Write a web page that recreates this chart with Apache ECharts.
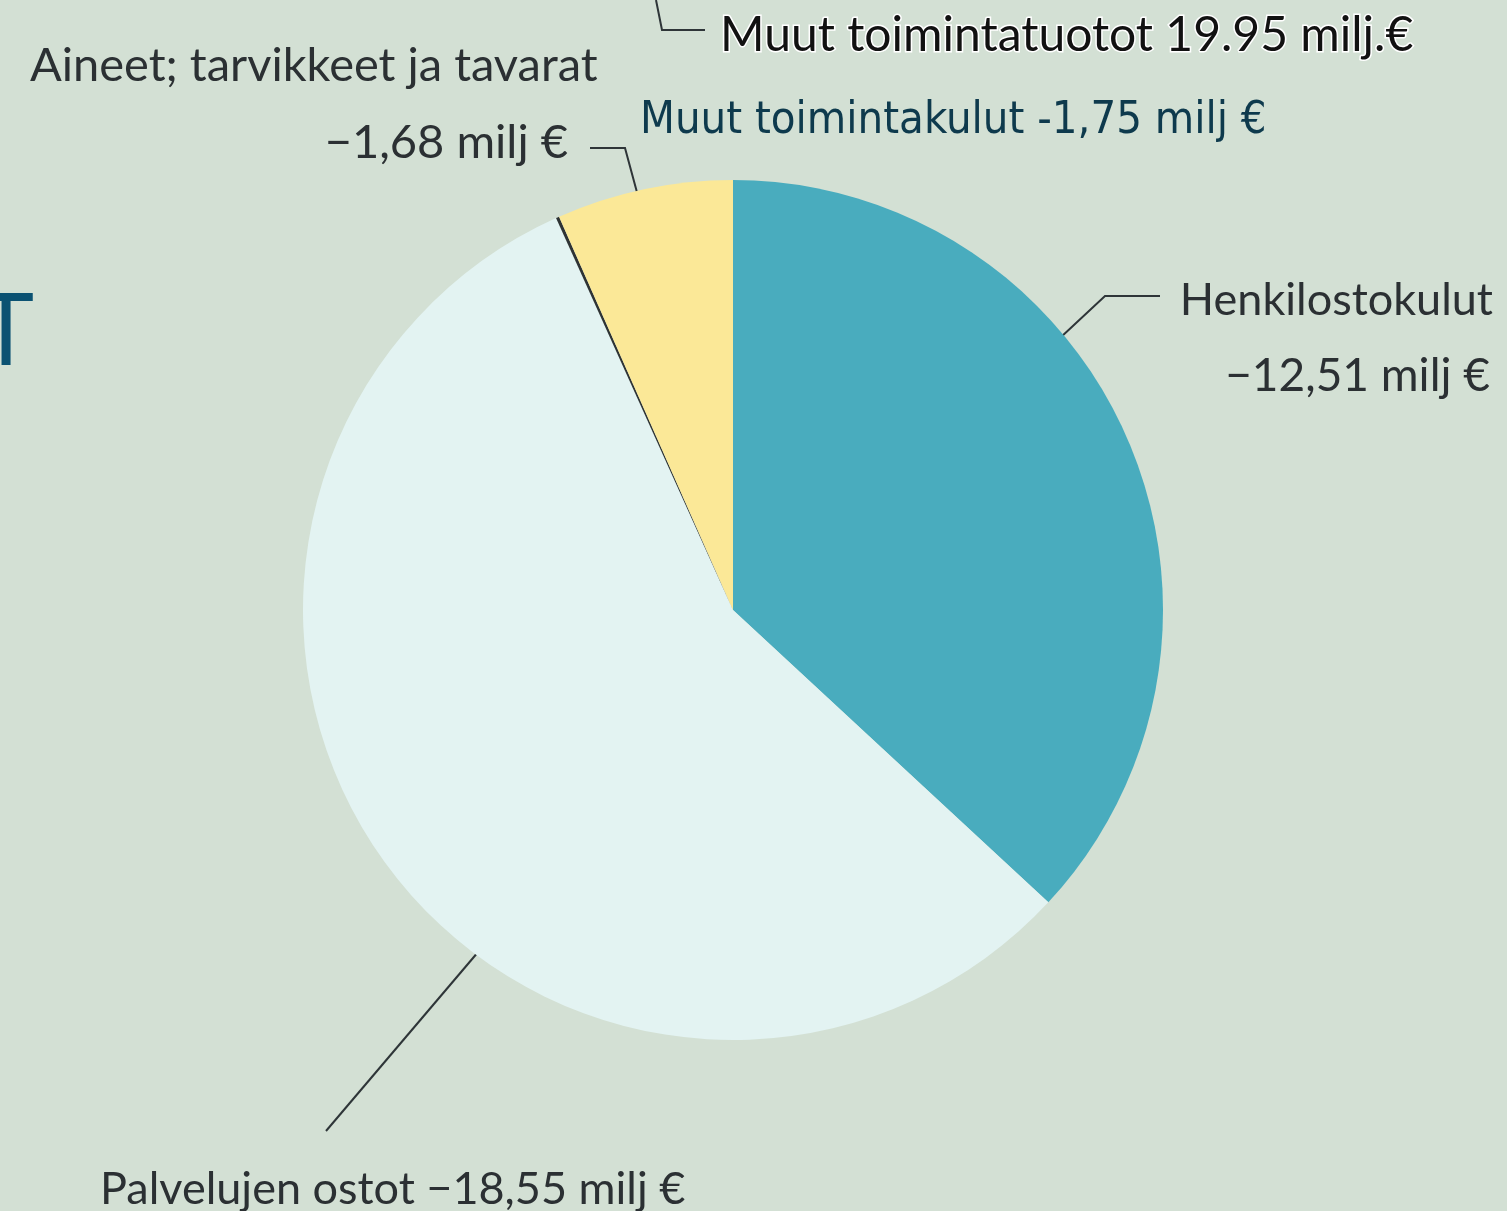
<!DOCTYPE html>
<html>
<head>
<meta charset="utf-8">
<script src="https://cdn.jsdelivr.net/npm/echarts@6/dist/echarts.min.js"></script>
<style>
  html, body { margin: 0; padding: 0; background: #d3e0d4; }
  #chart { width: 1507px; height: 1211px; }
</style>
</head>
<body>
<div id="chart"></div>
<script>
// slices clockwise from 12 o'clock
const categories = ['Henkilostokulut', 'Palvelujen ostot', 'Muut toimintakulut', 'Aineet; tarvikkeet ja tavarat']
const sliceValues = [12.08, 18.45, 0.04, 2.17]
const sliceColors = ['#49acbe', '#e3f3f2', '#2e3335', '#fbe897']
const valueLabels = ['−12,51 milj €', '−18,55 milj €', '-1,75 milj €', '−1,68 milj €']
const incomeLabel = 'Muut toimintatuotot 19.95 milj.€'

const chart = echarts.init(document.getElementById('chart'))

const txtFont = 'Lato, "Open Sans", sans-serif'
const txtColor = '#2b3033'
const lineStyle = { stroke: '#2e3538', lineWidth: 2, fill: null }

function text(x, y, str, size, opt) {
  return {
    type: 'text', x: x, y: y, silent: true,
    style: Object.assign({
      text: str, fill: txtColor, font: size + 'px ' + txtFont,
      textAlign: 'left', textVerticalAlign: 'middle'
    }, opt || {})
  }
}
function line(points) {
  return { type: 'polyline', silent: true, shape: { points: points }, style: lineStyle }
}

chart.setOption({
  backgroundColor: '#d3e0d4',
  animation: false,
  series: [
    {
      type: 'pie',
      center: [733, 610],
      radius: 430,
      startAngle: 90,
      clockwise: true,
      label: { show: false },
      labelLine: { show: false },
      itemStyle: { borderWidth: 0 },
      data: categories.map((name, i) => ({
        name: name,
        value: sliceValues[i],
        itemStyle: { color: sliceColors[i] }
      }))
    }
  ],
  graphic: [
    // cut-off title letter on the left edge
    text(6, 337, 'T', 100, { fill: '#0b5272', font: '100px "Noto Sans", sans-serif', textAlign: 'center' }),

    // income label at the top
    line([[656, 0], [662, 30], [705, 30]]),
    text(720, 36, incomeLabel, 48, { fill: '#111', stroke: '#ffffff', lineWidth: 3 }),

    // Aineet
    text(30, 66, categories[3], 47),
    text(568, 143, valueLabels[3], 47, { textAlign: 'right' }),
    line([[590, 148], [625, 148], [648, 233]]),

    // Muut toimintakulut
    text(640, 121, categories[2] + ' ' + valueLabels[2], 45, {
      fill: '#0e3a4d', font: '45px "Liberation Sans Narrow", "DejaVu Sans Condensed", sans-serif'
    }),

    // Henkilostokulut
    line([[1045, 352], [1105, 296], [1160, 296]]),
    text(1493, 300, categories[0], 45, { textAlign: 'right' }),
    text(1490, 376, valueLabels[0], 46, { textAlign: 'right' }),

    // Palvelujen ostot
    line([[490, 938], [326, 1131]]),
    text(100, 1189, categories[1] + ' ' + valueLabels[1], 45)
  ]
})
</script>
</body>
</html>
